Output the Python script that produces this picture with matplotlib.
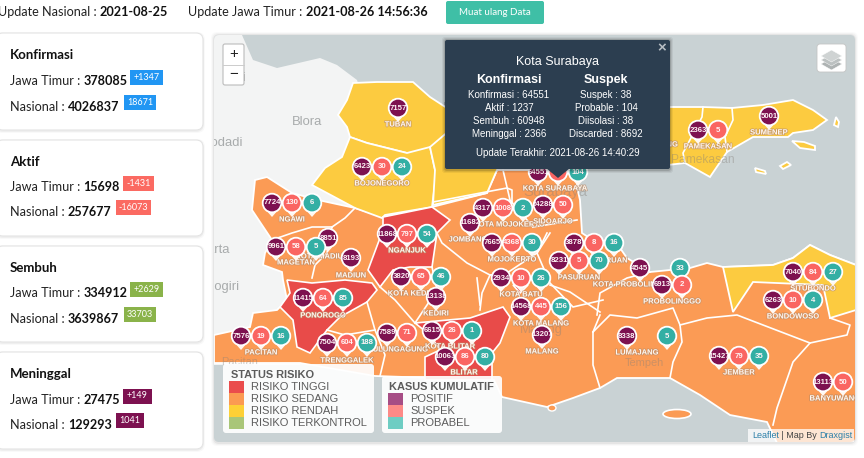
import matplotlib
matplotlib.use('Agg')
import matplotlib.pyplot as plt
import matplotlib.patheffects as pe
from matplotlib.patches import FancyBboxPatch, Polygon, Circle, Rectangle, Ellipse
from matplotlib.transforms import Bbox

# header
update_nasional = '2021-08-25'
update_jatim = '2021-08-26 14:56:36'

# summary cards
card_titles = ['Konfirmasi', 'Aktif', 'Sembuh', 'Meninggal']
jatim_values = ['378085', '15698', '334912', '27475']
nasional_values = ['4026837', '257677', '3639867', '129293']
jatim_delta = ['+1347', '-1431', '+2629', '+149']
nasional_delta = ['18671', '-16073', '33703', '1041']

# city pins, None = no pin of that kind visible
cities = ['TUBAN', 'BOJONEGORO', 'NGAWI', 'KOTA MADIUN', 'MAGETAN', 'MADIUN', 'PONOROGO', 'PACITAN',
          'TRENGGALEK', 'TULUNGAGUNG', 'KOTA BLITAR', 'BLITAR', 'KEDIRI', 'KOTA KEDIRI', 'NGANJUK',
          'JOMBANG', 'KOTA MOJOKERTO', 'SIDOARJO', 'KOTA SURABAYA', 'MOJOKERTO', 'KOTA PASURUAN',
          'PASURUAN', 'KOTA BATU', 'KOTA MALANG', 'MALANG', 'KOTA PROBOLINGGO', 'PROBOLINGGO',
          'LUMAJANG', 'JEMBER', 'BONDOWOSO', 'SITUBONDO', 'BANYUWANGI', 'SUMENEP', 'PAMEKASAN']
positif = [7157, 6423, 7724, 8851, 9961, 8193, 11415, 7576, 7504, 7589, 6615, 10063, 13138, 3820, 11868,
           11682, 4317, 24288, 64551, 7665, 3878, 8231, 2934, 14568, 13207, 4545, 6913, 8338, 15427,
           6263, 7040, 13113, 5001, 2363]
suspek = [None, 30, 130, None, 58, None, 64, 19, 604, 71, 26, 86, None, 65, 797, None, 1008, 50, 38, 4368,
          8, 5, 10, 445, None, None, 2, None, 79, 10, 84, 50, None, 5]
probabel = [None, 24, 6, None, 5, None, 85, 16, 188, None, 1, 80, None, 46, 54, None, 2, None, 104, 30,
            16, 70, 26, 156, None, 33, None, 5, 35, 4, 27, None, None, None]

# popup
popup_left = ['Konfirmasi : 64551', 'Aktif : 1237', 'Sembuh : 60948', 'Meninggal : 2366']
popup_right = ['Suspek : 38', 'Probable : 104', 'Diisolasi : 38', 'Discarded : 8692']

legend_risk = ['RISIKO TINGGI', 'RISIKO SEDANG', 'RISIKO RENDAH', 'RISIKO TERKONTROL']
legend_case = ['POSITIF', 'SUSPEK', 'PROBABEL']

# layout, everything below is in screen pixels
pin_xy = [(398, 108), (362, 167), (272, 203), (328, 238), (276, 247), (351, 258), (303, 298), (241, 336),
          (327, 343), (387, 333), (432, 331), (445, 357), (436, 297), (401, 277), (387, 234),
          (470, 223), (483, 208), (543, 205), (538, 172), (492, 243), (574, 243),
          (559, 261), (501, 278), (521, 307), (542, 335), (640, 268), (662, 285),
          (627, 336), (719, 356), (773, 300), (793, 272), (823, 382), (769, 116), (698, 130)]
label_xy = [(398, 125), (382, 184), (292, 220), (322, 257), (296, 263), (351, 276), (323, 316), (261, 353),
            (347, 361), (398, 350), (450, 347), (464, 373), (436, 314), (412, 294), (407, 251),
            (468, 240), (509, 225), (553, 222), (555, 189), (512, 260), (595, 261),
            (579, 278), (521, 295), (541, 324), (542, 352), (633, 285), (672, 302),
            (637, 353), (739, 373), (793, 317), (813, 289), (836, 399), (769, 133), (708, 147)]

PIN_POS = '#7d1150'
PIN_SUS = '#fa6562'
PIN_PRO = '#33afa4'
ORANGE = '#fb9b55'
RED = '#e84b49'
YELLOW = '#fccb40'
SEA = '#c9d2d4'
LAND = '#f3f4f4'
DARK = '#2c3e50'

java_land = [(214, 35), (242, 35), (253, 60), (277, 68), (320, 58), (337, 65), (357, 80), (380, 150), (360, 200),
             (330, 300), (300, 365), (214, 365)]
mainland = [(255, 180), (267, 177), (292, 193), (318, 200), (355, 208), (383, 217), (432, 207), (487, 193),
            (497, 170), (577, 170), (577, 187), (580, 200), (582, 233), (597, 243), (613, 238), (627, 258),
            (650, 272), (690, 268), (707, 263), (723, 267), (773, 265), (793, 258), (810, 245), (830, 255),
            (856, 265), (856, 443), (777, 443), (767, 422), (730, 415), (700, 395), (670, 378), (617, 378),
            (600, 388), (573, 398), (547, 407), (502, 397), (494, 380), (375, 376), (300, 363), (214, 363),
            (214, 335), (250, 327), (253, 313), (277, 310), (287, 300), (283, 280), (282, 272), (263, 265),
            (265, 253), (272, 240), (252, 210)]
yellow_regions = [
    [(338, 115), (347, 100), (353, 83), (377, 82), (413, 82), (430, 97), (450, 110), (450, 150), (407, 153),
     (367, 143), (350, 137), (347, 127)],
    [(350, 137), (367, 143), (407, 153), (430, 147), (435, 170), (435, 183), (432, 207), (385, 215), (382, 218),
     (355, 208), (312, 185), (325, 168), (342, 157)],
    [(430, 147), (450, 130), (560, 130), (497, 170), (487, 193), (433, 205), (435, 170)],
    [(650, 107), (703, 107), (732, 108), (763, 105), (793, 100), (813, 110), (827, 120), (813, 130), (793, 133),
     (788, 137), (753, 137), (727, 152), (710, 177), (685, 163), (650, 167)],
    [(723, 267), (773, 265), (793, 258), (810, 245), (830, 255), (856, 265), (856, 310), (830, 318), (823, 285),
     (753, 282), (733, 312)],
    [(792, 141), (804, 142), (815, 146), (815, 150), (800, 148)],
    [(834, 125), (836, 117), (839, 122), (838, 127)],
    [(780, 166), (787, 162), (791, 165), (783, 169)],
    [(755, 168), (765, 171), (766, 174), (756, 172)],
]
red_regions = [
    [(383, 217), (432, 207), (450, 220), (437, 233), (432, 267), (410, 267), (393, 270), (380, 287), (368, 270),
     (383, 230)],
    [(287, 280), (312, 283), (345, 280), (372, 283), (377, 290), (367, 302), (340, 317), (327, 330), (310, 353),
     (297, 347), (293, 320), (280, 307), (290, 293)],
    [(415, 323), (470, 318), (503, 307), (510, 317), (500, 343), (492, 353), (492, 380), (425, 380), (425, 357),
     (440, 350), (430, 335)],
    [(513, 285), (528, 285), (520, 293)],
]
borders = [
    [(332, 227), (312, 227), (292, 233), (272, 240)],
    [(355, 208), (345, 218), (332, 227), (327, 253), (315, 265), (312, 278)],
    [(367, 302), (375, 330), (385, 355), (380, 376)],
    [(327, 330), (345, 335), (375, 330)],
    [(380, 287), (395, 300), (415, 323)],
    [(437, 233), (442, 243), (467, 263), (490, 275), (482, 293), (480, 310)],
    [(432, 267), (437, 290), (415, 323)],
    [(433, 202), (507, 188), (512, 190), (512, 203)],
    [(490, 275), (507, 273), (537, 253), (550, 233)],
    [(533, 227), (577, 220)],
    [(547, 233), (537, 253), (550, 283), (573, 307), (603, 300)],
    [(477, 278), (480, 305)],
    [(550, 285), (570, 292), (600, 312)],
    [(503, 170), (510, 200), (533, 227)],
    [(597, 315), (600, 293), (627, 278), (650, 272)],
    [(593, 332), (610, 315), (637, 318), (673, 308), (680, 325), (682, 342), (673, 362), (670, 378)],
    [(593, 332), (593, 365), (600, 388)],
    [(600, 315), (593, 332)],
    [(680, 325), (707, 318), (737, 315), (763, 325), (810, 343), (847, 335), (850, 325), (830, 318)],
    [(810, 343), (793, 362), (777, 408), (773, 425)],
    [(703, 107), (702, 117), (683, 153), (685, 163)],
    [(732, 108), (733, 120), (725, 137), (727, 152)],
]
# basemap names: text, x, y, size, horizontal anchor
land_labels = [('Blora', 307, 122, 13, 'center'), ('Pati', 235, 78, 12, 'center'), ('Tuban', 432, 107, 11, 'left'),
               ('Purwodadi', 243, 143, 13, 'right'), ('Surakarta', 230, 250, 13, 'right'),
               ('Wonogiri', 240, 287, 13, 'right')]
over_labels = [('Surabaya', 555, 192, 15, 'center'), ('Malang', 541, 330, 13, 'center'),
               ('Pamekasan', 703, 160, 12, 'center'), ('Tempeh', 644, 363, 11, 'center'),
               ('Pacitan', 240, 362, 11, 'center')]

fig = plt.figure(figsize=(8.64, 4.58), dpi=100, facecolor='white')
ax = fig.add_axes([0, 0, 1, 1])
ax.set_xlim(0, 864)
ax.set_ylim(458, 0)
ax.axis('off')
renderer = fig.canvas.get_renderer()
UI_FONT = 'Lato'
MAP_FONT = 'Liberation Sans'
UI_SIZE = 12.65


def px(size):
    return size * 0.72


def chain(x, y, parts, size, family=UI_FONT, z=5):
    # text pieces in a row, each starting where the last stopped
    for s, weight, color in parts:
        t = ax.text(x, y, s, fontsize=px(size), fontweight=weight, color=color, family=family,
                    va='center', ha='left', zorder=z)
        x = t.get_window_extent(renderer).x1
    return x


def round_box(x0, y0, x1, y1, r, **kw):
    return FancyBboxPatch((x0 + r, y0 + r), x1 - x0 - 2 * r, y1 - y0 - 2 * r,
                          boxstyle='round,pad=%f,rounding_size=%f' % (r, r), **kw)


def screen_box(x0, y0, x1, y1):
    # agg clips text to a rectangle only, and that rectangle is in display coords
    return Bbox.from_extents(x0, 458 - y1, x1, 458 - y0)


# header row
chain(-2, 12, [('Update Nasional : ', 'normal', '#222222'), (update_nasional, 'bold', '#111111')], UI_SIZE)
chain(188, 12, [('Update Jawa Timur : ', 'normal', '#222222'), (update_jatim, 'bold', '#111111')], UI_SIZE)
ax.add_patch(round_box(446, 1, 544, 24, 2, fc='#3fbfa6', ec='none'))
ax.text(495, 12.5, 'Muat ulang Data', fontsize=px(9.8), color='white', family=UI_FONT, ha='center', va='center')

# cards
card_tops = [33, 140, 246, 352]
card_bottoms = [130, 236, 342, 449]
title_y = [55, 162, 268, 374]
row1_y = [81, 187, 293, 400]
row2_y = [107, 212, 319, 425]
badge_colors = ['#2196f3', '#fb6a62', '#8ab34a', '#7d1150']
badge1 = [(130, 163), (123, 154), (130, 163), (123, 152)]
badge2 = [(124, 156), (116, 151), (124, 156), (116, 144)]
for i, title in enumerate(card_titles):
    for off, a in [(2, 0.025), (1, 0.04)]:
        ax.add_patch(round_box(-4 - off, card_tops[i] - off + 1, 203 + off, card_bottoms[i] + off + 1, 8,
                               fc='black', ec='none', alpha=a, zorder=1))
    ax.add_patch(round_box(-4, card_tops[i], 203, card_bottoms[i], 7, fc='white', ec='#e4e4e4', lw=0.8, zorder=2))
    chain(10, title_y[i], [(title, 'bold', '#111111')], 13.2)
    chain(10, row1_y[i], [('Jawa Timur : ', 'normal', '#222222'), (jatim_values[i], 'bold', '#111111')], UI_SIZE)
    chain(10, row2_y[i], [('Nasional : ', 'normal', '#222222'), (nasional_values[i], 'bold', '#111111')], UI_SIZE)
    for (x0, x1), y, s in [(badge1[i], row1_y[i] - 3.5, jatim_delta[i]), (badge2[i], row2_y[i] - 4, nasional_delta[i])]:
        ax.add_patch(Rectangle((x0, y - 8), x1 - x0, 15, fc=badge_colors[i], ec='none', zorder=3))
        ax.text((x0 + x1) / 2, y - 0.5, s, color='white', fontsize=px(9), family=UI_FONT,
                ha='center', va='center', zorder=4)

# map panel
for off, a in [(3, 0.02), (2, 0.03), (1, 0.05)]:
    ax.add_patch(round_box(214 - off, 35 - off, 855 + off, 442 + off + 1, 6, fc='black', ec='none', alpha=a, zorder=1))
panel = round_box(214, 35, 855, 442, 5, fc=SEA, ec='none', zorder=2)
ax.add_patch(panel)
panel_box = screen_box(214, 35, 855, 442)


def clipped(artist):
    artist.set_clip_path(panel)
    artist.set_clip_on(True)
    return artist


def clipped_text(t):
    t.set_clip_box(panel_box)
    t.set_clip_on(True)
    return t


def map_name(item, color, alpha, z):
    name, x, y, s, anchor = item
    clipped_text(ax.text(x, y, name, fontsize=px(s), color=color, family=MAP_FONT, ha=anchor, va='center',
                         alpha=alpha, zorder=z))


ax.add_patch(clipped(Polygon(java_land, fc=LAND, ec='none', zorder=2.1)))
for item in land_labels:
    map_name(item, '#8f9394', 0.75, 2.15)
ax.add_patch(clipped(Polygon(mainland, fc=ORANGE, ec='white', lw=1.3, zorder=2.2)))
for poly in yellow_regions:
    ax.add_patch(clipped(Polygon(poly, fc=YELLOW, ec='white', lw=1.3, zorder=2.3)))
for poly in red_regions:
    ax.add_patch(clipped(Polygon(poly, fc=RED, ec='white', lw=1.2, zorder=2.35)))
for line in borders:
    xs, ys = zip(*line)
    clipped(ax.plot(xs, ys, color='white', lw=1.2, zorder=2.4, solid_joinstyle='round')[0])
ax.add_patch(Ellipse((677, 414), 28, 9, fc=ORANGE, ec='white', lw=1.2, zorder=2.3))
ax.add_patch(Ellipse((552, 408), 8, 6, fc=ORANGE, ec='white', lw=1.0, zorder=2.3))
for item in over_labels:
    map_name(item, '#85807a', 0.4, 2.45)

# city labels below the pins
shadow = [pe.withStroke(linewidth=1.1, foreground='#b98a66', alpha=0.7)]
for name, (x, y) in zip(cities, label_xy):
    clipped_text(ax.text(x, y, name, fontsize=px(7.6), fontweight='bold', color='#fff6ee', family=MAP_FONT,
                         ha='center', va='center', zorder=2.5, path_effects=shadow))
clipped_text(ax.text(678, 145, 'SAMPANG', fontsize=px(7.6), fontweight='bold', color='#fff6ee', family=MAP_FONT,
                     ha='right', va='center', zorder=2.5, path_effects=shadow))


def pin(x, y, value, color, z):
    ax.add_patch(clipped(Polygon([(x - 7, y + 6), (x + 7, y + 6), (x, y + 14)], fc='#fff8f2', ec='none', zorder=z)))
    ax.add_patch(clipped(Circle((x, y), 9.3, fc=color, ec='white', lw=1.3, zorder=z + 0.001)))
    t = ax.text(x, y, str(value), color='#fff4f6', fontsize=px(7.8), fontweight='bold', family=MAP_FONT,
                ha='center', va='center', zorder=z + 0.003)
    t.set_clip_box(screen_box(max(x - 9, 214), y - 9, min(x + 9, 855), y + 9))
    t.set_clip_on(True)


z = 3.0
for i, (x, y) in enumerate(pin_xy):
    series = [(positif[i], PIN_POS), (suspek[i], PIN_SUS), (probabel[i], PIN_PRO)]
    for k, (v, col) in enumerate(series):
        if v is not None:
            pin(x + 20 * k, y, v, col, z)
            z += 0.01

# zoom control
ax.add_patch(round_box(223, 44, 244, 85, 2, fc='white', ec='#bbbbbb', lw=0.8, zorder=6))
ax.plot([223, 244], [64.5, 64.5], color='#cccccc', lw=0.7, zorder=6.1)
ax.text(233.5, 54, '+', fontsize=px(15), family=MAP_FONT, ha='center', va='center', color='#222222', zorder=6.2)
ax.text(233.5, 74, '\u2212', fontsize=px(15), family=MAP_FONT, ha='center', va='center', color='#222222', zorder=6.2)

# layers control
ax.add_patch(round_box(817, 44, 846, 72, 3, fc='white', ec='#c4c4c4', lw=0.6, zorder=6))
for dy, col in [(8, '#aeb3b3'), (4, '#bcc1c1'), (0, '#cfd3d3')]:
    ax.add_patch(Polygon([(821, 56 + dy), (831.5, 50 + dy), (842, 56 + dy), (831.5, 62 + dy)],
                         fc=col, ec='white', lw=0.3, zorder=6.1))

# legends
ax.add_patch(round_box(223, 364, 374, 433, 3, fc='white', ec='none', alpha=0.92, zorder=6))
ax.add_patch(round_box(382, 376, 502, 433, 3, fc='white', ec='none', alpha=0.92, zorder=6))
ax.text(231, 375, 'STATUS RISIKO', fontsize=px(11), fontweight='bold', color='#5c5c5c', family=MAP_FONT,
        va='center', zorder=6.2)
ax.text(389, 387, 'KASUS KUMULATIF', fontsize=px(11), fontweight='bold', color='#5c5c5c', family=MAP_FONT,
        va='center', zorder=6.2)
for name, y, col in zip(legend_risk, [387, 399, 411, 423], ['#ea4c4c', '#fb9a52', '#fdd036', '#a9c678']):
    ax.add_patch(Rectangle((229, y - 6), 15, 12, fc=col, ec='none', zorder=6.1))
    ax.text(251, y, name, fontsize=px(11.1), color='#5c5c5c', family=MAP_FONT, va='center', zorder=6.2)
for name, y, col in zip(legend_case, [399, 411, 423], ['#a64d85', '#fd8a87', '#6ecdc3']):
    ax.add_patch(Rectangle((388, y - 6), 15, 12, fc=col, ec='none', zorder=6.1))
    ax.text(410, y, name, fontsize=px(11.1), color='#5c5c5c', family=MAP_FONT, va='center', zorder=6.2)

# attribution
ax.add_patch(Rectangle((748, 429), 106, 13, fc='white', ec='none', alpha=0.75, zorder=6))
chain(752, 435.5, [('Leaflet', 'normal', '#2b7fa8'), (' | Map By ', 'normal', '#444444'), ('Draxgist', 'normal', '#2b7fa8')],
      9, family=MAP_FONT, z=6.2)

# popup
for off, a in [(3, 0.06), (2, 0.08), (1, 0.12)]:
    ax.add_patch(round_box(445 - off, 40 - off, 670 + off, 169 + off + 1, 3, fc='black', ec='none', alpha=a, zorder=7))
ax.add_patch(Polygon([(546, 168), (570, 168), (558, 178)], fc=DARK, ec='none', zorder=7.1))
ax.add_patch(round_box(445, 40, 670, 169, 2, fc=DARK, ec='none', zorder=7.2))
ax.text(662, 48, '\u00d7', fontsize=px(15), fontweight='bold', color='#b8bec4', family=MAP_FONT,
        ha='center', va='center', zorder=7.4)
ax.text(558, 62, 'Kota Surabaya', fontsize=px(12.5), color='white', family=MAP_FONT, ha='center', va='center', zorder=7.4)
ax.text(509, 80, 'Konfirmasi', fontsize=px(12.5), fontweight='bold', color='white', family=MAP_FONT,
        ha='center', va='center', zorder=7.4)
ax.text(606, 80, 'Suspek', fontsize=px(12.5), fontweight='bold', color='white', family=MAP_FONT,
        ha='center', va='center', zorder=7.4)
for y, left, right in zip([95, 108, 121, 134], popup_left, popup_right):
    ax.text(509, y, left, fontsize=px(9.8), color='white', family=MAP_FONT, ha='center', va='center', zorder=7.4)
    ax.text(606, y, right, fontsize=px(9.8), color='white', family=MAP_FONT, ha='center', va='center', zorder=7.4)
ax.text(558, 153, 'Update Terakhir: 2021-08-26 14:40:29', fontsize=px(9.8), color='white', family=MAP_FONT,
        ha='center', va='center', zorder=7.4)

fig.savefig('out.png', dpi=100)
